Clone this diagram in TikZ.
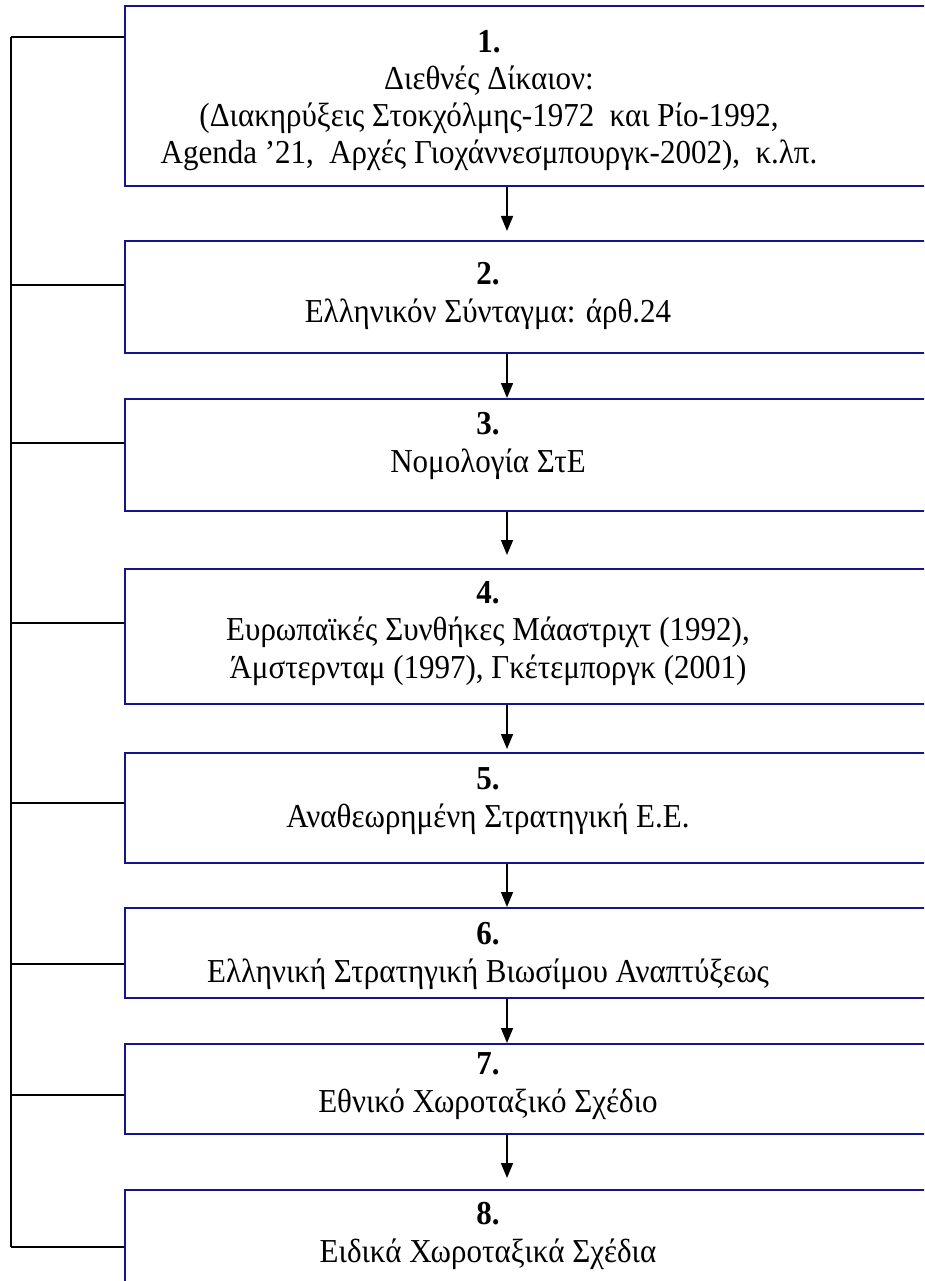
\documentclass[tikz,border=0pt]{standalone}
\usepackage{fontspec}
\setmainfont{Liberation Serif}
\usetikzlibrary{arrows.meta}
\definecolor{boxblue}{RGB}{20,20,140}
\newcommand{\stretchtext}[1]{\scalebox{1}[1.08]{\begin{tabular}[b]{@{}c@{}}#1\end{tabular}}}
\tikzset{
  stepbox/.style={draw=boxblue, line width=1.8pt, rectangle, inner sep=0pt, anchor=north west, minimum width=840pt},
  boxtext/.style={anchor=base, font=\fontsize{31}{34.4}\selectfont, inner sep=0pt},
  link/.style={draw=black, line width=1.6pt},
  arr/.style={link, -{Triangle[length=15pt,width=12pt]}}
}
\begin{document}
\begin{tikzpicture}[x=1pt,y=-1pt]
\useasboundingbox (0,0) rectangle (924,1281);
\clip (0,0) rectangle (924,1281);
% boxes
\node[stepbox, minimum height=180pt] (b1) at (124,5) {};
\node[stepbox, minimum height=112pt] (b2) at (124,240) {};
\node[stepbox, minimum height=112pt] (b3) at (124,398) {};
\node[stepbox, minimum height=135pt] (b4) at (124,568) {};
\node[stepbox, minimum height=110pt] (b5) at (124,752) {};
\node[stepbox, minimum height=90pt] (b6) at (124,907) {};
\node[stepbox, minimum height=90pt] (b7) at (124,1043) {};
\node[stepbox, minimum height=120pt] (b8) at (124,1189) {};
% texts (anchored at the baseline of their last line)
\node[boxtext] (t1) at (489,164) {\stretchtext{\textbf{1.}\\Διεθνές Δίκαιον:\\(Διακηρύξεις Στοκχόλμης-1972\ \ και Ρίο-1992,\\Agenda ’21,\ \ Αρχές Γιοχάννεσμπουργκ-2002),\ \ κ.λπ.}};
\node[boxtext] (t2) at (488,322) {\stretchtext{\textbf{2.}\\Ελληνικόν Σύνταγμα: άρθ.24}};
\node[boxtext] (t3) at (488,472) {\stretchtext{\textbf{3.}\\Νομολογία ΣτΕ}};
\node[boxtext] (t4) at (488,678) {\stretchtext{\textbf{4.}\\Ευρωπαϊκές Συνθήκες Μάαστριχτ (1992),\\Άμστερνταμ (1997), Γκέτεμποργκ (2001)}};
\node[boxtext] (t5) at (488,827) {\stretchtext{\textbf{5.}\\Αναθεωρημένη Στρατηγική Ε.Ε.}};
\node[boxtext] (t6) at (488,982) {\stretchtext{\textbf{6.}\\Ελληνική Στρατηγική Βιωσίμου Αναπτύξεως}};
\node[boxtext] (t7) at (488,1112) {\stretchtext{\textbf{7.}\\Εθνικό Χωροταξικό Σχέδιο}};
\node[boxtext] (t8) at (488,1262) {\stretchtext{\textbf{8.}\\Ειδικά Χωροταξικά Σχέδια}};
% arrow ends
\coordinate (e2) at (507,231);
\coordinate (e3) at (507,398);
\coordinate (e4) at (507,555);
\coordinate (e5) at (507,749);
\coordinate (e6) at (507,907);
\coordinate (e7) at (507,1043);
\coordinate (e8) at (507,1178);
\draw[arr] (b1.south west -| e2) -- (e2);
\draw[arr] (b2.south west -| e3) -- (e3);
\draw[arr] (b3.south west -| e4) -- (e4);
\draw[arr] (b4.south west -| e5) -- (e5);
\draw[arr] (b5.south west -| e6) -- (e6);
\draw[arr] (b6.south west -| e7) -- (e7);
\draw[arr] (b7.south west -| e8) -- (e8);
% left spine
\coordinate (s1) at (11,37);
\coordinate (s2) at (11,285);
\coordinate (s3) at (11,443);
\coordinate (s4) at (11,623);
\coordinate (s5) at (11,803);
\coordinate (s6) at (11,964);
\coordinate (s7) at (11,1095);
\coordinate (s8) at (11,1247);
\draw[link] (s1) -- (s8);
\draw[link] (s1) -- (s1 -| b1.west);
\draw[link] (s2) -- (s2 -| b2.west);
\draw[link] (s3) -- (s3 -| b3.west);
\draw[link] (s4) -- (s4 -| b4.west);
\draw[link] (s5) -- (s5 -| b5.west);
\draw[link] (s6) -- (s6 -| b6.west);
\draw[link] (s7) -- (s7 -| b7.west);
\draw[link] (s8) -- (s8 -| b8.west);
\end{tikzpicture}
\end{document}
